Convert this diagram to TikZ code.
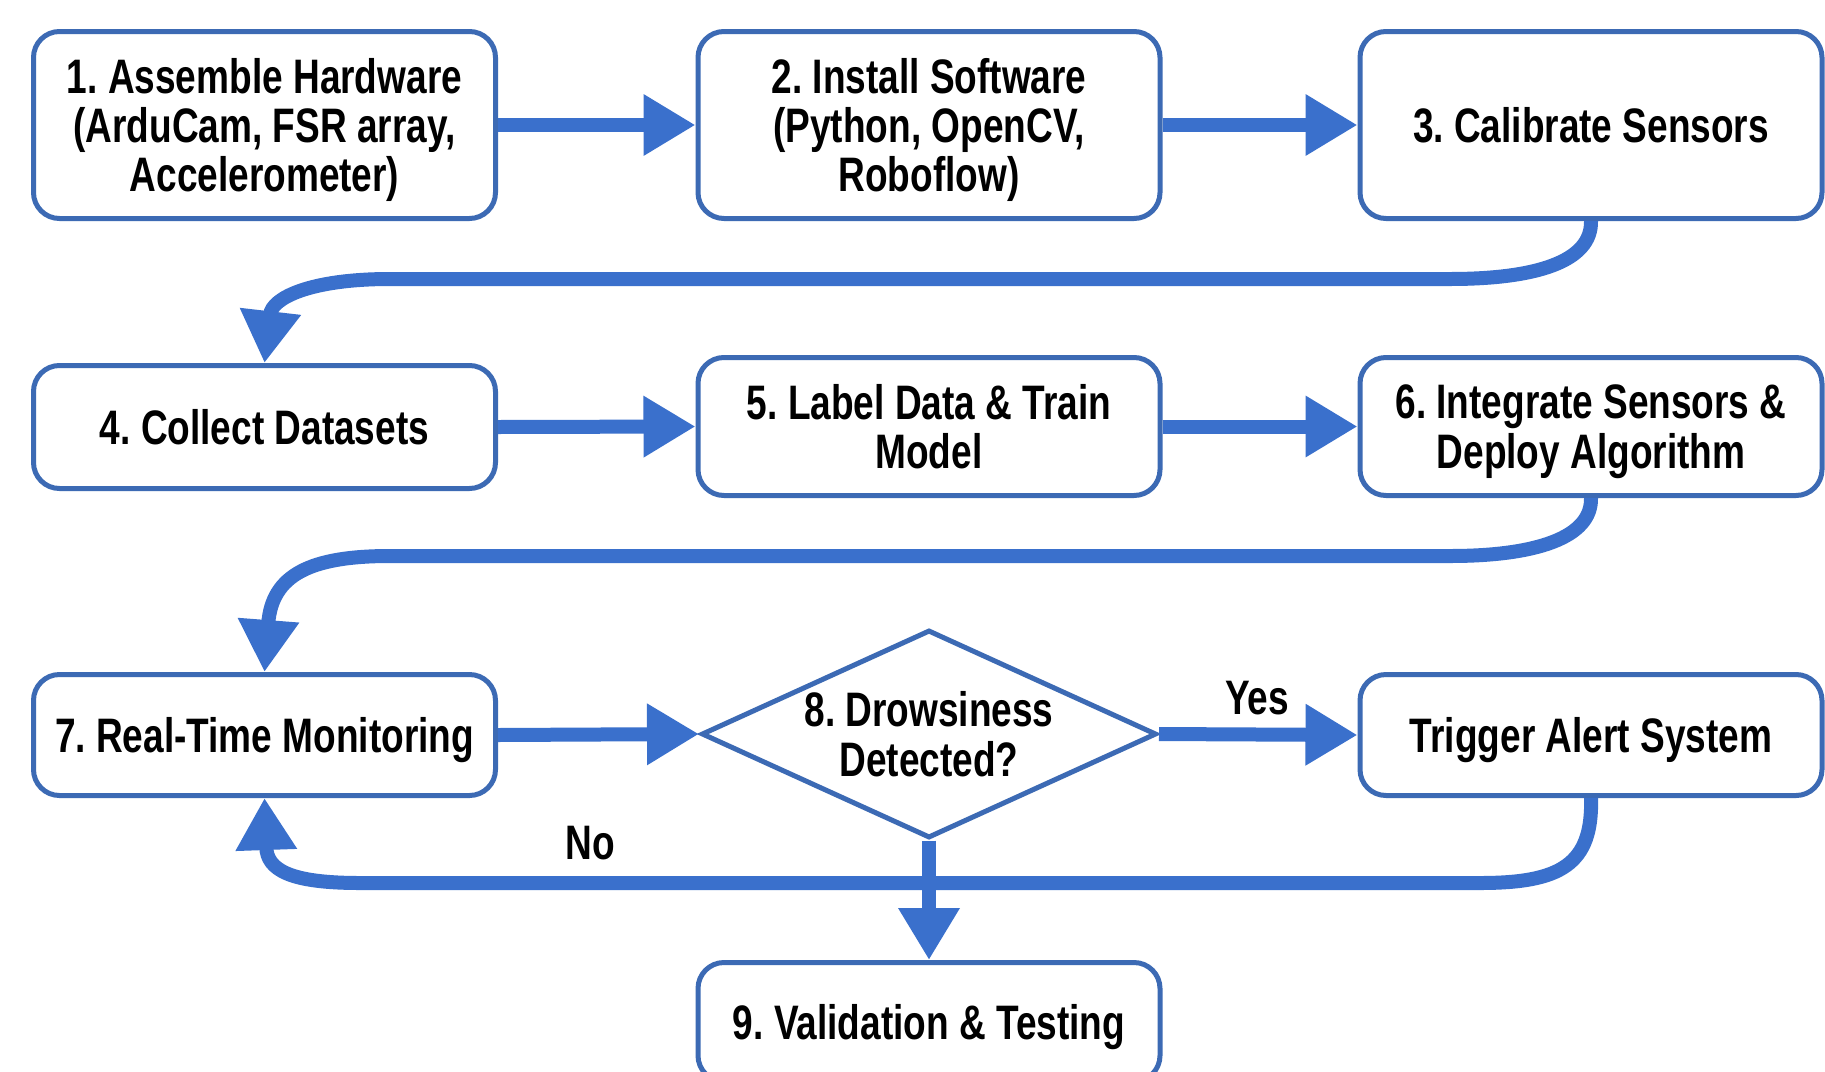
\documentclass[tikz,border=0pt]{standalone}
\usepackage{fontspec}
\newfontfamily\lab{Liberation Sans}[FakeStretch=0.765]
\usetikzlibrary{arrows.meta,shapes.geometric}
\definecolor{bord}{RGB}{60,106,180}
\definecolor{arr}{RGB}{58,112,204}
\begin{document}
\frenchspacing
\begin{tikzpicture}[x=0.5pt,y=-0.5pt,
  txt/.style={font=\lab\bfseries\fontsize{24.2}{24.6}\selectfont, text=black, align=center},
  box/.style={txt, draw=bord, line width=2.5pt, rounded corners=13pt, fill=white,
              minimum width=231pt, inner sep=0pt, text depth=0pt},
  dec/.style={txt, draw=bord, line width=2.5pt, fill=white, shape=diamond, shape aspect=2.2,
              minimum width=227.5pt, minimum height=104pt, inner sep=0pt, text depth=0pt},
  flow/.style={draw=arr, line width=7pt, -{Triangle[length=26pt,width=29pt]}},
  lbl/.style={txt}]
\fill[white] (0,0) rectangle (1825,1071);
\clip (0,0) rectangle (1825,1071);

% row 1
\node[box, minimum height=93.5pt] (b1) at (264.5,125) {1. Assemble Hardware\\(ArduCam, FSR array,\\Accelerometer)};
\node[box, minimum height=93.5pt] (b2) at (929,125) {2. Install Software\\(Python, OpenCV,\\Roboflow)};
\node[box, minimum height=93.5pt] (b3) at (1591,125) {3. Calibrate Sensors};
% row 2
\node[box, minimum height=61.5pt] (b4) at (264.5,427) {4. Collect Datasets};
\node[box, minimum height=69pt] (b5) at (929,426.5) {5. Label Data \& Train\\Model};
\node[box, minimum height=69pt] (b6) at (1591,426.5) {6. Integrate Sensors \&\\Deploy Algorithm};
% row 3
\node[box, minimum height=60.5pt] (b7) at (264.5,735) {7. Real-Time Monitoring};
\node[dec] (d8) at (929,734) {8. Drowsiness\\Detected?};
\node[box, minimum height=60.5pt] (trig) at (1591,735) {Trigger Alert System};
% row 4
\node[box, minimum height=59.5pt] (b9) at (929,1022) {9. Validation \& Testing};

% straight connectors
\draw[flow] (b1.east) -- (b2.west);
\draw[flow] (b2.east) -- (b3.west);
\draw[flow] (b4.east) -- (b5.west);
\draw[flow] (b5.east) -- (b6.west);
\draw[flow] (b7.east) -- (d8.west);
\draw[flow] (d8.east) -- (trig.west);
\draw[flow] (d8.south) -- (b9.north);

% curved connectors
\draw[flow] (b3.south) .. controls (1592,262) and (1535,279) .. (1450,279)
  -- (390,279) .. controls (310,279) and (272,298) .. (b4.north);
\draw[flow] (b6.south) .. controls (1592,538) and (1535,556) .. (1450,556)
  -- (390,556) .. controls (310,556) and (272,575) .. (b7.north);
\draw[flow] (trig.south) .. controls (1593,865) and (1560,883) .. (1480,883)
  -- (360,883) .. controls (290,883) and (267,870) .. (b7.south);

% labels
\node[lbl] (yes) at (1257,698) {Yes};
\node[lbl] (no) at (590,843) {No};
\end{tikzpicture}
\end{document}
